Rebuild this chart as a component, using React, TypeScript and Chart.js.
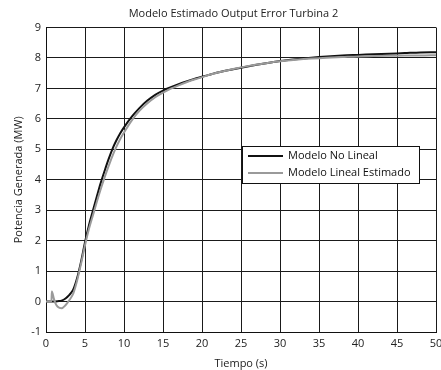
import React, { useEffect, useRef } from "react";
import { Chart, registerables } from "chart.js";

Chart.register(...registerables);

const TITLE = "Modelo Estimado Output Error Turbina 2";
const X_LABEL = "Tiempo (s)";
const Y_LABEL = "Potencia Generada (MW)";
const SERIES_NAMES = ["Modelo No Lineal", "Modelo Lineal Estimado"];

const time = [0, 0.5, 0.7, 0.75, 1, 1.2, 1.5, 2, 2.5, 3, 3.5, 4, 4.5, 5, 5.5, 6, 6.5, 7, 7.5, 8, 8.5, 9, 9.5, 10, 11, 12, 13, 14, 15, 16, 17, 18, 19, 20, 22, 24, 26, 28, 30, 32, 34, 36, 38, 40, 42, 44, 46, 48, 50];

const noLineal = [0, 0, 0, 0, 0, 0, 0.01, 0.03, 0.1, 0.22, 0.4, 0.78, 1.32, 1.95, 2.5, 2.97, 3.43, 3.88, 4.28, 4.66, 5.0, 5.28, 5.52, 5.72, 6.07, 6.36, 6.6, 6.79, 6.93, 7.04, 7.14, 7.23, 7.31, 7.38, 7.52, 7.63, 7.73, 7.82, 7.9, 7.96, 8.01, 8.05, 8.08, 8.1, 8.12, 8.14, 8.16, 8.18, 8.19];

const linealEstimado = [0, 0, 0, 0.33, 0.1, -0.05, -0.17, -0.22, -0.12, 0.05, 0.27, 0.7, 1.25, 1.85, 2.38, 2.82, 3.26, 3.68, 4.07, 4.43, 4.77, 5.07, 5.33, 5.55, 5.95, 6.27, 6.51, 6.71, 6.86, 6.99, 7.1, 7.2, 7.29, 7.37, 7.52, 7.64, 7.74, 7.82, 7.89, 7.94, 7.98, 8.01, 8.03, 8.05, 8.06, 8.07, 8.08, 8.08, 8.09];

const xTicks = [0, 5, 10, 15, 20, 25, 30, 35, 40, 45, 50];
const yTicks = [-1, 0, 1, 2, 3, 4, 5, 6, 7, 8, 9];

const FONT = "'Open Sans', 'Noto Sans', sans-serif";
const COLORS = ["#111111", "#9a9a9a"];

const overlayPlugin = {
  id: "overlay",
  afterDraw(chart: any) {
    const { ctx, chartArea } = chart;
    ctx.save();
    // title
    ctx.fillStyle = "#222";
    ctx.font = `11px ${FONT}`;
    ctx.textAlign = "center";
    ctx.textBaseline = "middle";
    ctx.fillText(TITLE, 233.5, 14);
    // legend
    const right = chartArea.right - 17;
    const left = right - 177;
    const top = chartArea.top + 118.5;
    const h = 37;
    ctx.fillStyle = "#ffffff";
    ctx.fillRect(left, top, right - left, h);
    ctx.strokeStyle = "#111";
    ctx.lineWidth = 1;
    ctx.strokeRect(Math.round(left) + 0.5, Math.round(top) + 0.5, right - left, h);
    SERIES_NAMES.forEach((name, i) => {
      const y = top + 10 + i * 17;
      ctx.strokeStyle = COLORS[i];
      ctx.lineWidth = 2;
      ctx.beginPath();
      ctx.moveTo(left + 6, y);
      ctx.lineTo(left + 41, y);
      ctx.stroke();
      ctx.fillStyle = "#111";
      ctx.textAlign = "left";
      ctx.font = `11px ${FONT}`;
      ctx.fillText(name, left + 46, y);
    });
    ctx.restore();
  },
};

export default function App() {
  const ref = useRef<HTMLCanvasElement | null>(null);
  useEffect(() => {
    if (!ref.current) return;
    const chart = new Chart(ref.current, {
      type: "line",
      data: {
        datasets: [
          {
            label: SERIES_NAMES[0],
            data: time.map((t, i) => ({ x: t, y: noLineal[i] })),
            borderColor: COLORS[0],
            borderWidth: 2,
            pointRadius: 0,
            cubicInterpolationMode: "monotone",
            order: 1,
          },
          {
            label: SERIES_NAMES[1],
            data: time.map((t, i) => ({ x: t, y: linealEstimado[i] })),
            borderColor: COLORS[1],
            borderWidth: 2,
            pointRadius: 0,
            cubicInterpolationMode: "monotone",
            order: 0,
          },
        ],
      },
      plugins: [overlayPlugin],
      options: {
        animation: false,
        responsive: false,
        layout: { padding: { top: 27.5, right: 5, left: 0, bottom: 0 } },
        plugins: {
          legend: { display: false },
          title: { display: false },
          tooltip: { enabled: false },
        },
        scales: {
          x: {
            type: "linear",
            min: 0,
            max: 50,
            afterBuildTicks: (s: any) => {
              s.ticks = xTicks.map((v) => ({ value: v }));
            },
            afterFit: (s: any) => {
              s.height = 38;
              s.paddingRight = 0;
              s.paddingLeft = 0;
            },
            grid: { color: "#1a1a1a", lineWidth: 1, drawTicks: false },
            border: { color: "#111", width: 1 },
            ticks: { color: "#222", font: { family: FONT, size: 11 }, padding: 5, maxRotation: 0 },
            title: {
              display: true,
              text: X_LABEL,
              color: "#222",
              font: { family: FONT, size: 11 },
              padding: { top: 0, bottom: 0 },
            },
          },
          y: {
            type: "linear",
            min: -1,
            max: 9,
            afterBuildTicks: (s: any) => {
              s.ticks = yTicks.map((v) => ({ value: v }));
            },
            afterFit: (s: any) => {
              s.width = 46;
              s.paddingTop = 0;
              s.paddingBottom = 0;
            },
            grid: { color: "#1a1a1a", lineWidth: 1, drawTicks: false },
            border: { color: "#111", width: 1 },
            ticks: { color: "#222", font: { family: FONT, size: 11 }, padding: 5 },
            title: {
              display: true,
              text: Y_LABEL,
              color: "#222",
              font: { family: FONT, size: 11 },
              padding: { top: 12, bottom: 0 },
            },
          },
        },
      },
    } as any);
    return () => chart.destroy();
  }, []);
  return (
    <div style={{ position: "fixed", left: 0, top: 0, width: 441, height: 370, background: "#fff" }}>
      <canvas ref={ref} width={441} height={370} style={{ width: 441, height: 370 }} />
    </div>
  );
}
